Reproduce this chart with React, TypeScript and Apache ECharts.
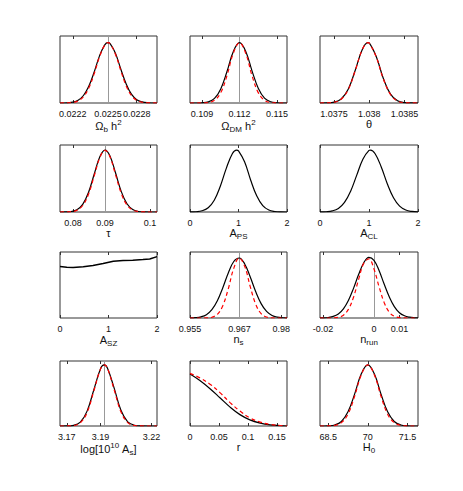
import React, { useEffect, useRef } from "react";
import * as echarts from "echarts";

const FONT = "'Liberation Sans Narrow', 'Liberation Sans', Arial, sans-serif";

// Panel 1: Omega_b h^2
const obX = [0.02208, 0.02215, 0.0222, 0.02225, 0.0223, 0.02235, 0.0224, 0.02245, 0.0225, 0.02253, 0.02255, 0.0226, 0.02265, 0.0227, 0.02275, 0.0228, 0.02285, 0.0229, 0.02299];
const obBlack = [0, 0.003, 0.012, 0.041, 0.112, 0.25, 0.46, 0.7, 0.868, 0.9, 0.886, 0.743, 0.508, 0.288, 0.132, 0.05, 0.016, 0.004, 0];
const obRed = [0, 0.002, 0.008, 0.031, 0.093, 0.224, 0.434, 0.684, 0.866, 0.9, 0.884, 0.729, 0.486, 0.258, 0.112, 0.04, 0.011, 0.003, 0];
const obTicks = [0.0222, 0.02253, 0.0228];
const obTickLabels = ["0.0222", "0.0225", "0.0228"];

// Panel 2: Omega_DM h^2
const odmX = [0.10804, 0.1085, 0.109, 0.1095, 0.11, 0.1105, 0.111, 0.1115, 0.112, 0.1125, 0.113, 0.1135, 0.114, 0.1145, 0.115, 0.1155, 0.1158];
const odmBlack = [0, 0, 0.003, 0.016, 0.068, 0.21, 0.47, 0.766, 0.9, 0.77, 0.48, 0.22, 0.072, 0.018, 0.004, 0, 0];
const odmRed = [0, 0, 0.001, 0.007, 0.04, 0.155, 0.41, 0.74, 0.9, 0.74, 0.41, 0.155, 0.04, 0.007, 0.001, 0, 0];
const odmTicks = [0.109, 0.112, 0.115];
const odmTickLabels = ["0.109", "0.112", "0.115"];

// Panel 3: theta
const thX = [1.0373, 1.0374, 1.0375, 1.0376, 1.0377, 1.0378, 1.0379, 1.03798, 1.038, 1.0381, 1.0382, 1.0383, 1.0384, 1.0385, 1.0386, 1.03869];
const thBlack = [0, 0.002, 0.012, 0.059, 0.205, 0.489, 0.8, 0.9, 0.894, 0.686, 0.362, 0.132, 0.032, 0.005, 0.001, 0];
const thRed = [0, 0.002, 0.011, 0.056, 0.2, 0.485, 0.797, 0.9, 0.893, 0.68, 0.355, 0.127, 0.03, 0.005, 0.001, 0];
const thTicks = [1.0375, 1.038, 1.0385];
const thTickLabels = ["1.0375", "1.038", "1.0385"];

// Panel 4: tau
const tauX = [0.0766, 0.078, 0.0795, 0.081, 0.0825, 0.084, 0.0855, 0.087, 0.0883, 0.0895, 0.091, 0.0925, 0.094, 0.0955, 0.097, 0.0985, 0.1, 0.1018];
const tauBlack = [0, 0.001, 0.007, 0.033, 0.113, 0.291, 0.567, 0.832, 0.925, 0.847, 0.589, 0.308, 0.123, 0.037, 0.008, 0.001, 0, 0];
const tauRed = [0, 0.001, 0.005, 0.026, 0.097, 0.265, 0.542, 0.82, 0.92, 0.835, 0.564, 0.28, 0.104, 0.028, 0.006, 0.001, 0, 0];
const tauTicks = [0.08, 0.0883, 0.1];
const tauTickLabels = ["0.08", "0.09", "0.1"];

// Panel 5: A_PS
const apsX = [0, 0.125, 0.25, 0.375, 0.5, 0.625, 0.75, 0.875, 0.96, 1.0, 1.125, 1.25, 1.375, 1.5, 1.625, 1.75, 1.875, 2];
const apsBlack = [0.001, 0.004, 0.018, 0.064, 0.176, 0.385, 0.655, 0.874, 0.925, 0.913, 0.75, 0.478, 0.241, 0.095, 0.029, 0.007, 0.001, 0];

// Panel 6: A_CL
const aclX = [0, 0.125, 0.25, 0.375, 0.5, 0.625, 0.75, 0.875, 1.0, 1.03, 1.125, 1.25, 1.375, 1.5, 1.625, 1.75, 1.875, 2];
const aclBlack = [0.001, 0.004, 0.016, 0.053, 0.143, 0.311, 0.55, 0.788, 0.919, 0.925, 0.87, 0.672, 0.418, 0.212, 0.087, 0.029, 0.008, 0.002];

// Panel 7: A_SZ
const aszX = [0, 0.14, 0.27, 0.48, 0.68, 0.89, 1.1, 1.3, 1.5, 1.71, 1.85, 2];
const aszBlack = [0.78, 0.77, 0.765, 0.775, 0.795, 0.825, 0.86, 0.87, 0.875, 0.885, 0.895, 0.93];

const unitTicks = [0, 1, 2];
const unitTickLabels = ["0", "1", "2"];

// Panel 8: n_s
const nsX = [0.955, 0.9565, 0.958, 0.9595, 0.961, 0.9625, 0.964, 0.9655, 0.967, 0.9685, 0.97, 0.9715, 0.973, 0.9745, 0.976, 0.9775, 0.979, 0.9805, 0.9816];
const nsBlack = [0.001, 0.005, 0.018, 0.051, 0.126, 0.261, 0.459, 0.682, 0.856, 0.909, 0.819, 0.624, 0.401, 0.218, 0.1, 0.039, 0.013, 0.004, 0.001];
const nsRed = [0, 0, 0, 0.002, 0.012, 0.056, 0.187, 0.443, 0.752, 0.91, 0.783, 0.48, 0.211, 0.066, 0.015, 0.002, 0, 0, 0];
const nsTicks = [0.955, 0.9686, 0.98];
const nsTickLabels = ["0.955", "0.967", "0.98"];

// Panel 9: n_run
const nrunX = [-0.0212, -0.02, -0.018, -0.016, -0.014, -0.012, -0.01, -0.008, -0.006, -0.004, -0.002, 0, 0.002, 0.004, 0.006, 0.008, 0.01, 0.012, 0.014, 0.016, 0.0173];
const nrunBlack = [0.001, 0.002, 0.008, 0.024, 0.062, 0.139, 0.269, 0.453, 0.662, 0.838, 0.918, 0.874, 0.72, 0.514, 0.322, 0.173, 0.08, 0.033, 0.012, 0.003, 0.001];
const nrunRed = [0, 0, 0, 0.002, 0.011, 0.043, 0.135, 0.319, 0.59, 0.828, 0.896, 0.743, 0.474, 0.235, 0.089, 0.026, 0.006, 0.001, 0, 0, 0];
const nrunTicks = [-0.02, 0, 0.01];
const nrunTickLabels = ["-0.02", "0", "0.01"];

// Panel 10: log[10^10 A_s]
const lasX = [3.166, 3.17, 3.174, 3.178, 3.182, 3.186, 3.19, 3.1921, 3.194, 3.198, 3.202, 3.206, 3.21, 3.214, 3.218, 3.2233];
const lasBlack = [0, 0.001, 0.01, 0.059, 0.229, 0.558, 0.884, 0.94, 0.893, 0.582, 0.241, 0.064, 0.011, 0.001, 0, 0];
const lasRed = [0, 0.001, 0.007, 0.049, 0.207, 0.542, 0.881, 0.94, 0.89, 0.558, 0.218, 0.053, 0.008, 0.001, 0, 0];
const lasTicks = [3.17, 3.19, 3.22];
const lasTickLabels = ["3.17", "3.19", "3.22"];

// Panel 11: r
const rX = [0, 0.017, 0.035, 0.052, 0.069, 0.086, 0.103, 0.121, 0.138, 0.155, 0.167];
const rBlack = [0.8, 0.7, 0.57, 0.43, 0.29, 0.175, 0.095, 0.045, 0.018, 0.006, 0];
const rRed = [0.81, 0.74, 0.64, 0.51, 0.36, 0.23, 0.125, 0.06, 0.024, 0.008, 0];
const rTicks = [0, 0.05, 0.1, 0.15];
const rTickLabels = ["0", "0.05", "0.1", "0.15"];

// Panel 12: H_0
const h0X = [68.19, 68.5, 68.75, 69, 69.25, 69.5, 69.75, 70, 70.25, 70.5, 70.75, 71, 71.25, 71.5, 71.75, 71.9];
const h0Black = [0, 0.003, 0.016, 0.07, 0.218, 0.49, 0.8, 0.94, 0.8, 0.49, 0.218, 0.07, 0.016, 0.003, 0, 0];
const h0Red = [0, 0.001, 0.01, 0.052, 0.182, 0.458, 0.785, 0.94, 0.785, 0.458, 0.182, 0.052, 0.01, 0.001, 0, 0];
const h0Ticks = [68.5, 70, 71.5];
const h0TickLabels = ["68.5", "70", "71.5"];

type Panel = {
  name: string;
  nameGap: number;
  min: number;
  max: number;
  ticks: number[];
  labels: string[];
  x: number[];
  black: number[];
  red?: number[];
  line?: number;
  smooth?: boolean;
};

const panels: Panel[] = [
  { name: "{m|Ω}{sb|b}{m| h}{sp|2}", nameGap: 15, min: 0.02208, max: 0.02299, ticks: obTicks, labels: obTickLabels, x: obX, black: obBlack, red: obRed, line: 0.02253 },
  { name: "{m|Ω}{sb|DM}{m| h}{sp|2}", nameGap: 15, min: 0.10804, max: 0.1158, ticks: odmTicks, labels: odmTickLabels, x: odmX, black: odmBlack, red: odmRed, line: 0.112 },
  { name: "{m|θ}", nameGap: 12, min: 1.0373, max: 1.03869, ticks: thTicks, labels: thTickLabels, x: thX, black: thBlack, red: thRed },
  { name: "{m|τ}", nameGap: 13, min: 0.0766, max: 0.1018, ticks: tauTicks, labels: tauTickLabels, x: tauX, black: tauBlack, red: tauRed, line: 0.0883 },
  { name: "{m|A}{sb|PS}", nameGap: 10, min: 0, max: 2, ticks: unitTicks, labels: unitTickLabels, x: apsX, black: apsBlack },
  { name: "{m|A}{sb|CL}", nameGap: 10, min: 0, max: 2, ticks: unitTicks, labels: unitTickLabels, x: aclX, black: aclBlack },
  { name: "{m|A}{sb|SZ}", nameGap: 14, min: 0, max: 2, ticks: unitTicks, labels: unitTickLabels, x: aszX, black: aszBlack, smooth: false },
  { name: "{m|n}{sb|s}", nameGap: 11, min: 0.955, max: 0.9816, ticks: nsTicks, labels: nsTickLabels, x: nsX, black: nsBlack, red: nsRed, line: 0.9686 },
  { name: "{m|n}{sb|run}", nameGap: 11, min: -0.0212, max: 0.0173, ticks: nrunTicks, labels: nrunTickLabels, x: nrunX, black: nrunBlack, red: nrunRed, line: 0 },
  { name: "{m|log[10}{sp|10}{m| A}{sb|s}{m|]}", nameGap: 10, min: 3.166, max: 3.2233, ticks: lasTicks, labels: lasTickLabels, x: lasX, black: lasBlack, red: lasRed, line: 3.1921 },
  { name: "{m|r}", nameGap: 12, min: 0, max: 0.167, ticks: rTicks, labels: rTickLabels, x: rX, black: rBlack, red: rRed },
  { name: "{m|H}{sb|0}", nameGap: 9, min: 68.19, max: 71.9, ticks: h0Ticks, labels: h0TickLabels, x: h0X, black: h0Black, red: h0Red },
];

const colLeft = [60, 190, 320];
const colWidth = [97, 97, 98];
const rowTop = [36, 145, 252, 361];
const rowHeight = [67, 67, 66, 65];

function buildOption() {
  const grid: any[] = [];
  const xAxis: any[] = [];
  const yAxis: any[] = [];
  const series: any[] = [];
  panels.forEach((p, i) => {
    const r = Math.floor(i / 3);
    const c = i % 3;
    grid.push({
      left: colLeft[c],
      top: rowTop[r],
      width: colWidth[c],
      height: rowHeight[r],
      show: true,
      borderColor: "#333",
      borderWidth: 1,
      backgroundColor: "transparent",
    });
    const tol = (p.max - p.min) * 0.08;
    const fmt = (v: number) => {
      let best = -1;
      let bestD = Infinity;
      p.ticks.forEach((t, k) => {
        const d = Math.abs(t - v);
        if (d < bestD) {
          bestD = d;
          best = k;
        }
      });
      return best >= 0 && bestD < tol ? p.labels[best] : "";
    };
    xAxis.push({
      type: "value",
      gridIndex: i,
      position: "bottom",
      min: p.min,
      max: p.max,
      axisLine: { show: false },
      splitLine: { show: false },
      axisTick: { show: true, inside: true, length: 3, customValues: p.ticks, lineStyle: { color: "#333" } },
      axisLabel: {
        customValues: p.ticks,
        formatter: fmt,
        fontSize: 9,
        fontFamily: FONT,
        color: "#111",
        margin: 6,
        showMinLabel: true,
        showMaxLabel: true,
        hideOverlap: false,
      },
      name: p.name,
      nameLocation: "middle",
      nameGap: p.nameGap,
      nameTextStyle: {
        color: "#111",
        fontFamily: FONT,
        rich: {
          m: { fontSize: 11, fontFamily: FONT, color: "#111" },
          sb: { fontSize: 8, fontFamily: FONT, color: "#111", padding: [7, 0, 0, 0] },
          sp: { fontSize: 8, fontFamily: FONT, color: "#111", padding: [0, 0, 7, 0] },
        },
      },
    });
    xAxis.push({
      type: "value",
      gridIndex: i,
      position: "top",
      min: p.min,
      max: p.max,
      axisLine: { show: false },
      splitLine: { show: false },
      axisTick: { show: true, inside: true, length: 3, customValues: p.ticks, lineStyle: { color: "#333" } },
      axisLabel: { show: false },
    });
    yAxis.push({ type: "value", gridIndex: i, min: 0, max: 1, show: false });

    const blackData = p.x.map((x, k) => [x, p.black[k]]);
    const blackSeries: any = {
      type: "line",
      xAxisIndex: 2 * i,
      yAxisIndex: i,
      data: blackData,
      showSymbol: false,
      symbol: "none",
      smooth: p.smooth === false ? false : 0.4,
      lineStyle: { color: "#000", width: p.smooth === false ? 1.5 : 1.2 },
      z: 3,
    };
    if (p.line !== undefined) {
      blackSeries.markLine = {
        silent: true,
        precision: 8,
        symbol: ["none", "none"],
        label: { show: false },
        lineStyle: { color: "#999", width: 1, type: "solid" },
        data: [{ xAxis: p.line }],
        z: 1,
      };
    }
    series.push(blackSeries);
    if (p.red) {
      series.push({
        type: "line",
        xAxisIndex: 2 * i,
        yAxisIndex: i,
        data: p.x.map((x, k) => [x, p.red![k]]),
        showSymbol: false,
        symbol: "none",
        smooth: 0.4,
        lineStyle: { color: "#ff0000", width: 1.2, type: [4, 3] },
        z: 4,
      });
    }
  });
  return { animation: false, backgroundColor: "#fff", grid, xAxis, yAxis, series };
}

export default function App() {
  const ref = useRef<HTMLDivElement>(null);
  useEffect(() => {
    if (!ref.current) return;
    const chart = echarts.init(ref.current, null, { renderer: "svg" });
    chart.setOption(buildOption() as any);
    return () => chart.dispose();
  }, []);
  return (
    <div
      ref={ref}
      style={{ position: "absolute", left: 0, top: 0, width: 463, height: 491, background: "#fff" }}
    />
  );
}
